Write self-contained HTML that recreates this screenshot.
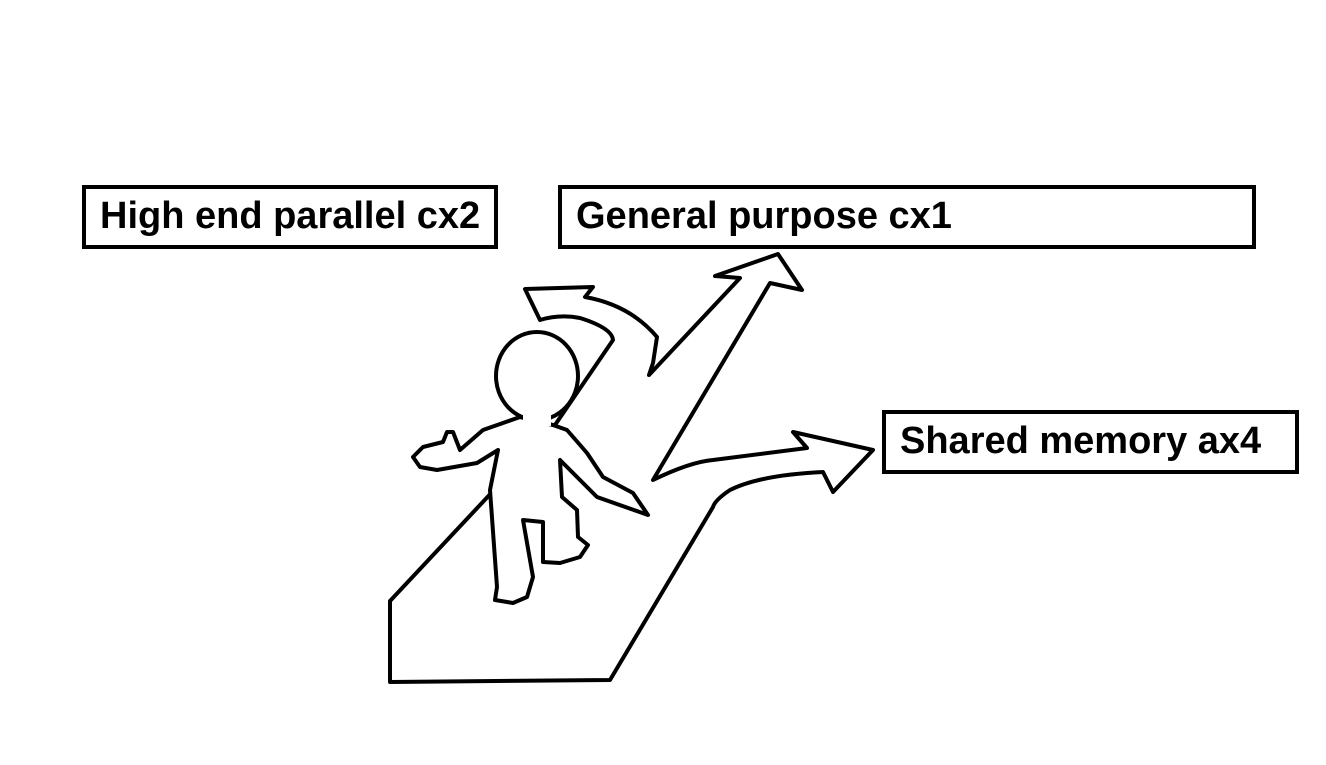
<!DOCTYPE html>
<html><head><meta charset="utf-8"><style>
body{margin:0;background:#fff;width:1326px;height:765px;overflow:hidden;position:relative;font-family:"Liberation Sans",sans-serif}
.box{position:absolute;box-sizing:border-box;border:4px solid #000;background:#fff;font-weight:bold;font-size:38px;line-height:54px;padding-left:14px;white-space:nowrap}
</style></head><body>
<svg width="1326" height="765" style="position:absolute;left:0;top:0">
<path fill="#fff" stroke="#000" stroke-width="4" stroke-linejoin="round"
d="M390,682 L390,601 L555,425 L613,340 Q612,328 580,318 Q560,314 540,320 L525,289 L593,287 L585,297 Q630,305 657,337 L653,363 L649,375 L740,278 L715,276 L778,254 L802,290 L770,283 L653,480 Q690,462 713,460 L807,448 L793,432 L873,450 L833,492 L823,472 Q760,475 730,490 Q715,500 713,507 L610,680 Z"/>
<path fill="#fff" stroke="#000" stroke-width="4" stroke-linejoin="round"
d="M520,417 L553,425 L567,430 L587,453 L603,477 L633,493 L648,515 L597,497 L560,460 L562,497 L577,510 L578,537 L588,545 L580,557 L560,563 L543,562 L543,522 L523,520 L533,577 L527,597 L513,603 L495,600 L497,587 L490,490 L498,450 L477,463 L437,470 L420,467 L413,457 L423,447 L443,442 L447,432 L453,432 L460,450 L483,430 Z"/>
<ellipse cx="537" cy="376" rx="41" ry="44" fill="#fff" stroke="#000" stroke-width="4"/>
<rect x="523" y="414" width="28" height="12" fill="#fff"/>
</svg>
<div class="box" style="left:82px;top:185px;width:416px;height:64px">High end parallel cx2</div>
<div class="box" style="left:558px;top:185px;width:698px;height:64px">General purpose cx1</div>
<div class="box" style="left:882px;top:410px;width:417px;height:64px">Shared memory ax4</div>
</body></html>
